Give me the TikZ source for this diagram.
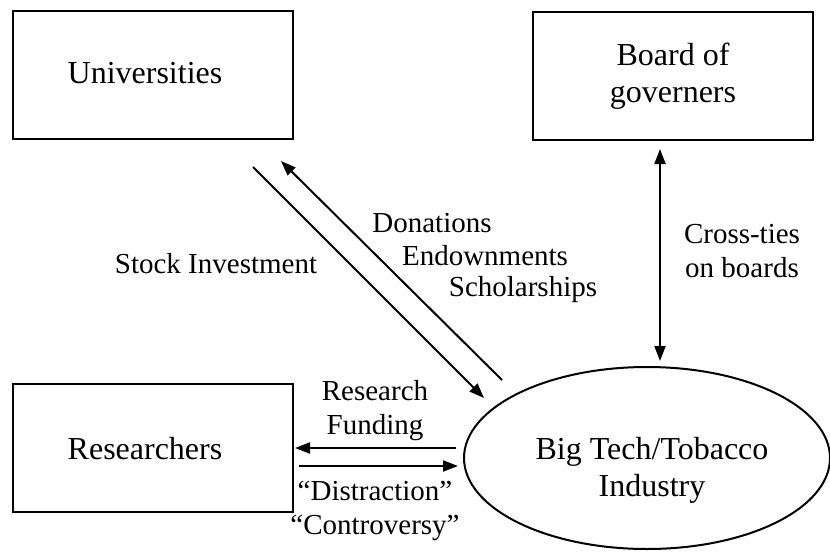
\documentclass[tikz,border=0pt]{standalone}
\usepackage{fontspec}
\setmainfont{Liberation Serif}
\usetikzlibrary{arrows.meta,shapes.geometric}
\begin{document}
\begin{tikzpicture}[x=1pt,y=-1pt,
  boxnode/.style={draw,line width=2.6pt,inner sep=0pt},
  boxtext/.style={font=\fontsize{32}{37}\selectfont,align=center,inner sep=0pt},
  lbl/.style={font=\fontsize{29}{34}\selectfont,align=center,inner sep=0pt},
  conn/.style={line width=2pt,-{Triangle[length=15pt,width=11pt]}},
  dconn/.style={line width=2pt,{Triangle[length=15pt,width=11pt]}-{Triangle[length=15pt,width=11pt]}}]
\useasboundingbox (0,0) rectangle (830,554);
% boxes
\draw[boxnode] (13,11) rectangle (293,139);
\node[boxtext] (univ) at (145,73) {Universities};
\draw[boxnode] (533,12) rectangle (813,140);
\node[boxtext] (board) at (673,76) {Board of\\governers};
\draw[boxnode] (13,384) rectangle (293,512);
\node[boxtext] (res) at (145,449) {Researchers};
\node[draw,line width=2pt,ellipse,minimum width=366pt,minimum height=182pt,inner sep=0pt] (ind) at (647,458) {};
\node[boxtext] (indtext) at (652,470) {Big Tech/Tobacco\\Industry};
% connector endpoints
\coordinate (s1) at (253,167);
\coordinate (e1) at (484,398);
\coordinate (s2) at (502,380);
\coordinate (e2) at (281,161);
\coordinate (rf1) at (456,448);
\coordinate (rf2) at (295,448);
\coordinate (dc1) at (299,466);
\coordinate (dc2) at (458,466);
\coordinate (bt) at (660,149);
\coordinate (bb) at (660,361);
% connectors
\draw[conn] (s1) -- (e1);
\draw[conn] (s2) -- (e2);
\draw[conn] (rf1) -- (rf2);
\draw[conn] (dc1) -- (dc2);
\draw[dconn] (bt) -- (bb);
% labels
\node[lbl] (si) at (216,264) {Stock Investment};
\node[lbl] (don) at (432,223) {Donations};
\node[lbl] (end) at (485,256) {Endownments};
\node[lbl] (sch) at (523,290) {Scholarships};
\node[lbl] (ct) at (742,251) {Cross-ties\\on boards};
\node[lbl] (rfl) at (375,411) {Research\\Funding};
\node[lbl] (dcl) at (375,511) {``Distraction''\\``Controversy''};
\end{tikzpicture}
\end{document}
